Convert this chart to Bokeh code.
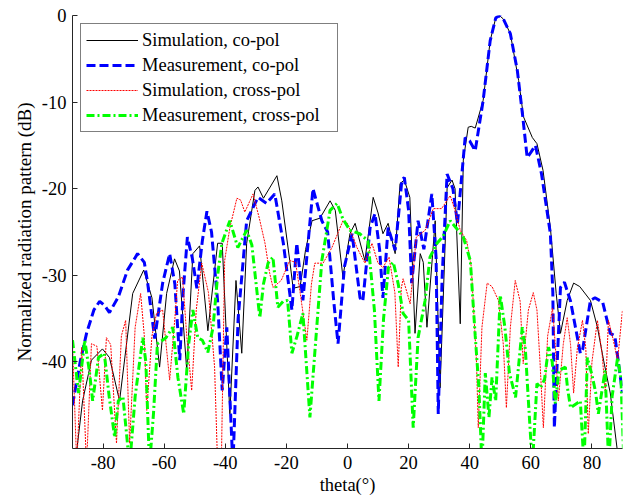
from bokeh.plotting import figure
from bokeh.models import Range1d, FixedTicker
from bokeh.embed import file_html
from bokeh.resources import INLINE

# ---- data (theta in degrees, normalized pattern in dB) ----
meas_co_x = [-90, -87.5, -85.4, -83, -81.1, -79.5, -77.9, -75, -72, -68.7, -66.5, -65.4, -63.1, -60.5, -58.2,
             -56.5, -54.9, -53.8, -52.4, -50.8, -49.3, -47.5, -46, -44.5, -42.5, -41, -39.5, -37.5, -35.8, -33,
             -29.3, -26.5, -23.8, -21, -18.2, -16.6, -14.6, -11.3, -8.4, -6.5, -4.5, -3.1, -1, 1.5, 4.1, 5, 7.4,
             9, 10.5, 11.6, 13.3, 15.6, 17.8, 18.6, 20, 21, 23.1, 25, 27.6, 29, 29.7, 31, 32.6, 34.5, 36, 38.5,
             40, 41.8, 44.4, 46.7, 48.5, 49.7, 51, 53.3, 55.6, 57.3, 58.8, 60, 61.5, 63.5, 66.4, 67.2, 67.7,
             69.7, 71, 73, 76.2, 77, 79.5, 81, 83.5, 86, 87.5, 90]
meas_co_y = [-45, -40, -36.7, -34, -33, -33.5, -34.3, -32.5, -29.4, -27.5, -28.5, -30.9, -37.3, -30.9, -27.5,
             -31, -39.8, -32, -25.6, -28, -31.5, -26, -22.6, -25, -33, -43.3, -36, -52, -35, -23.7,
             -21, -21.7, -20.6, -26.3, -34, -26.3, -32.9, -20, -23.7, -25, -33, -37.9, -29, -25.2, -32.6, -33, -24.5,
             -22.9, -27, -32.6, -24.5, -27.1, -19, -18.7, -22.5, -30.9, -23.7, -27, -20.6, -28, -46, -30, -18.3, -20, -24, -14.1,
             -14.5, -15.6, -9.8, -2.9, -0.3, 0, -0.4, -2.1, -6.4, -11.5, -16.4, -15.8, -15, -18.3, -25.2, -32, -47.6,
             -31.4, -30.8, -33, -39, -38.5, -32.9, -32.6, -33.1, -36.7, -37, -43.6]

sim_co_x = [-88.7, -86.7, -83.8, -80.2, -77.9, -74.6, -70.3, -66.7, -64, -61.5, -59.2, -56.6, -55, -52.6, -50.6,
            -48.4, -45.7, -42.5, -41, -38.5, -36.5, -34.6, -33, -30.3, -29.3, -27.5, -23.1, -21.5, -18.9, -17.8,
            -15.5, -13.7, -11.6, -9, -5.7, -4, -1.5, 0.8, 2.5, 4.7, 5.7, 8.4, 10, 11.6, 13.3, 15.6, 17.2, 18.6,
            20.4, 22.1, 23.8, 24.8, 26, 28.7, 30.3, 32.6, 34.2, 35.2, 36.9, 37.9, 39.5, 40.5, 41.8, 44.4, 46.7,
            48.5, 49.7, 51, 53.3, 56, 57.6, 60.5, 62, 64, 66.4, 68.3, 69.7, 71.9, 74, 76, 79.5, 81.8, 83.8, 86, 88.4]
sim_co_y = [-50.5, -44.5, -39.8, -38.5, -39.5, -44.5, -32.1, -29.4, -32.6, -40.6, -32.1, -28.1, -29.5, -41, -27.5,
            -26.6, -36.4, -26.3, -26.3, -46, -30.6, -39, -26.3, -20.2, -19.8, -21.1, -18.5, -21.4, -28.3, -31.5,
            -31.3, -27, -23.7, -23.4, -21.4, -22.5, -30.2, -25.2, -24, -27, -28.3, -21, -22.8, -25.2, -24, -27.5, -19.4, -19,
            -21, -36.7, -27.5, -28.5, -36, -23.7, -43, -19.9, -19, -20, -35.6, -16.7, -12.9, -12.8, -13, -9.8, -2.9,
            -0.3, 0, -0.4, -2.1, -7.5, -11.7, -14.1, -14.8, -17.9, -24.5, -32.1, -36.7, -32.9, -30.9, -31.3, -32.9, -36, -39.8, -43.6, -50.5]

sim_x_x = [-90, -88.6, -87, -85.4, -83.8, -82, -80.2, -78.9, -77.5, -75.6, -74, -72.6, -71.3, -69.5, -67.7, -66.5,
           -65.7, -64, -62.5, -60.5, -58.2, -56.5, -55.6, -54, -52.6, -51, -49.5, -47.7, -45.5, -43.5, -42.5, -41.3,
           -40.2, -38.5, -36.2, -35, -33.6, -30.9, -28.8, -27, -25.5, -24.4, -21.7, -18.9, -17, -15.5, -13.3, -11.8,
           -10.7, -8, -5.1, -1.5, 0, 3.1, 5.7, 8, 10, 11.6, 13.6, 15.5, 16.6, 17.6, 18.2, 20.5, 22.5, 25.4, 28.1,
           30.8, 33.6, 35.2, 36.9, 39, 40.5, 42.2, 42.8, 44, 45.7, 47.3, 49.4, 51, 52, 53.3, 54.9, 56.5, 57.5, 59.2,
           60.8, 62, 63, 64.1, 65.5, 67.1, 68, 69, 70.6, 71.9, 73, 74, 75.2, 76.9, 78, 78.8, 80, 81.8, 83.3, 84.4,
           85.4, 87, 88.4, 90]
sim_x_y = [-38, -52, -38.3, -52, -37.9, -38.2, -45.6, -37.2, -38, -49.4, -37, -35.2, -49.4, -36, -32.1, -37,
           -45.6, -37, -34.4, -34, -42.1, -35, -30.6, -30.2, -37, -43.3, -34, -28.6, -32, -40.6, -52, -52,
           -28.3, -24.5, -21.1, -21.3, -22.7, -20.6, -23.5, -26.3, -29.7, -31.4, -30.6, -28.3, -28.5, -32, -37.5, -31,
           -28.6, -28.6, -26.8, -23.7, -24, -26.8, -28.6, -26.3, -28.6, -29.1, -27.9, -32, -40.6, -31.5, -30.4, -33.3, -25.6, -24.8, -22.3,
           -22.3, -20.8, -22.5, -24.8, -26, -29, -39.8, -47.6, -36, -30.9, -31.3, -32.9, -38, -45.3, -36, -30.6, -33, -40.2, -34,
           -32, -34, -40, -47.6, -37, -33.8, -38, -44.5, -38, -34.9, -38, -43.6, -38.5, -35.2, -38.5, -48.3, -40, -35.2, -39, -43.6,
           -35.2, -37.5, -39.8, -34]

meas_x_x = [-90, -88, -86, -84.5, -83.4, -81.5, -79.6, -78, -76.2, -75, -73.5, -71.3, -69.5, -67, -66, -64.8,
            -63.5, -62.2, -59.4, -57.2, -55.5, -53.6, -52, -50.6, -49, -47.5, -45.7, -44, -42.5, -41.1, -38.5,
            -35.9, -33, -31.3, -28.7, -27.5, -26, -24.4, -22.8, -21, -19.6, -18.2, -16.5, -14.6, -12.3, -10.5,
            -8.4, -5.7, -3.4, -1.5, 0.8, 4, 6.7, 8.8, 10.3, 11.8, 13.4, 15, 16.6, 18.2, 20, 21.5, 23.1, 25.4, 27,
            29.3, 31.3, 33.6, 36.2, 37.9, 40.2, 41.8, 43, 44, 45.1, 46.3, 47.3, 48.5, 50, 51.5, 53, 55, 57.2, 58.2,
            59.2, 60.5, 62, 63.2, 64.5, 65.8, 67, 68, 69.2, 71.3, 72, 73, 75, 76.2, 77.4, 78.5, 80, 81.2, 82.1,
            84.3, 85.5, 86.6, 88.4, 89.5, 90.5]
meas_x_y = [-37.5, -43.6, -37.5, -41, -44.5, -39.5, -39, -44, -48.7, -44.5, -44, -52, -44, -37.2, -40, -52,
            -46, -37.9, -37.2, -36, -41.8, -46, -38, -34, -37.2, -37.5, -38.9, -36, -30, -26.3, -23.7,
            -26.8, -24.8, -26.5, -34.9, -31, -28.6, -27.9, -33.7, -33, -32.9, -39, -37, -34.4, -46.4, -38,
            -28.3, -22.5, -21.7, -23.5, -24.8, -25.2, -26, -34, -44.5, -35, -29.1, -28.5, -31, -34.4, -35.2, -47.6, -37.2, -32.9, -27.9,
            -26.3, -25.5, -23.7, -24.8, -25.6, -28.3, -37, -43, -52, -41.3, -46.4, -41.8, -44.5, -32.3, -36, -41.3, -44.1, -36, -38.5,
            -44.5, -52, -42.5, -43, -42, -38.3, -40, -44.8, -41, -40.6, -43, -45.3, -44.8, -44.5, -52, -39.5, -41.5, -43.5, -46,
            -41, -52, -44, -39.5, -42, -52]

x_ticks = [-80, -60, -40, -20, 0, 20, 40, 60, 80]
y_ticks = [-40, -30, -20, -10, 0]

FONT = "Liberation Serif"

p = figure(frame_width=550, frame_height=433, output_backend="svg", toolbar_location=None,
           x_range=Range1d(-90, 90), y_range=Range1d(-50, 0),
           min_border_left=72, min_border_top=15, min_border_right=10, min_border_bottom=10)
p.outline_line_color = None
p.background_fill_color = "white"
p.border_fill_color = "white"
p.grid.visible = False

p.line(sim_co_x, sim_co_y, line_color="black", line_width=1, legend_label="Simulation, co-pol")
p.line(meas_co_x, meas_co_y, line_color="#0000FF", line_width=3, line_dash="9 4",
       legend_label="Measurement, co-pol")
p.line(sim_x_x, sim_x_y, line_color="#FF0000", line_width=1, line_dash="2 1",
       legend_label="Simulation, cross-pol")
p.line(meas_x_x, meas_x_y, line_color="#00FF00", line_width=3, line_dash="8 3 2 3",
       legend_label="Measurement, cross-pol")

for ax in (p.xaxis[0], p.yaxis[0]):
    ax.major_tick_in = 5
    ax.major_tick_out = 0
    ax.minor_tick_line_color = None
    ax.axis_line_color = "#262626"
    ax.major_tick_line_color = "#262626"
    ax.major_label_text_font = FONT
    ax.major_label_text_font_size = "18.5px"
    ax.major_label_text_color = "black"
    ax.axis_label_text_font = FONT
    ax.axis_label_text_font_size = "18.5px"
    ax.axis_label_text_font_style = "normal"
    ax.axis_label_text_color = "black"

p.xaxis.ticker = FixedTicker(ticks=x_ticks)
p.yaxis.ticker = FixedTicker(ticks=y_ticks)
p.xaxis.major_label_overrides = {t: str(t) for t in x_ticks}
p.yaxis.major_label_overrides = {t: str(t) for t in y_ticks}
p.xaxis.axis_label = "theta(°)"
p.yaxis.axis_label = "Normalized radiation pattern (dB)"
p.yaxis.axis_label_text_font_size = "19px"
p.xaxis.major_label_standoff = 7
p.xaxis.axis_label_standoff = 3
p.yaxis.major_label_standoff = 6
p.yaxis.axis_label_standoff = 4

lg = p.legend[0]
lg.location = "top_left"
lg.margin = 8
lg.padding = 5
lg.spacing = 3
lg.glyph_width = 52
lg.glyph_height = 22
lg.label_height = 22
lg.label_width = 190
lg.label_standoff = 4
lg.label_text_font = FONT
lg.label_text_font_size = "18.5px"
lg.label_text_color = "black"
lg.border_line_color = "black"
lg.border_line_width = 1
lg.background_fill_alpha = 1.0

open("out.html", "w").write(file_html(p, INLINE))
